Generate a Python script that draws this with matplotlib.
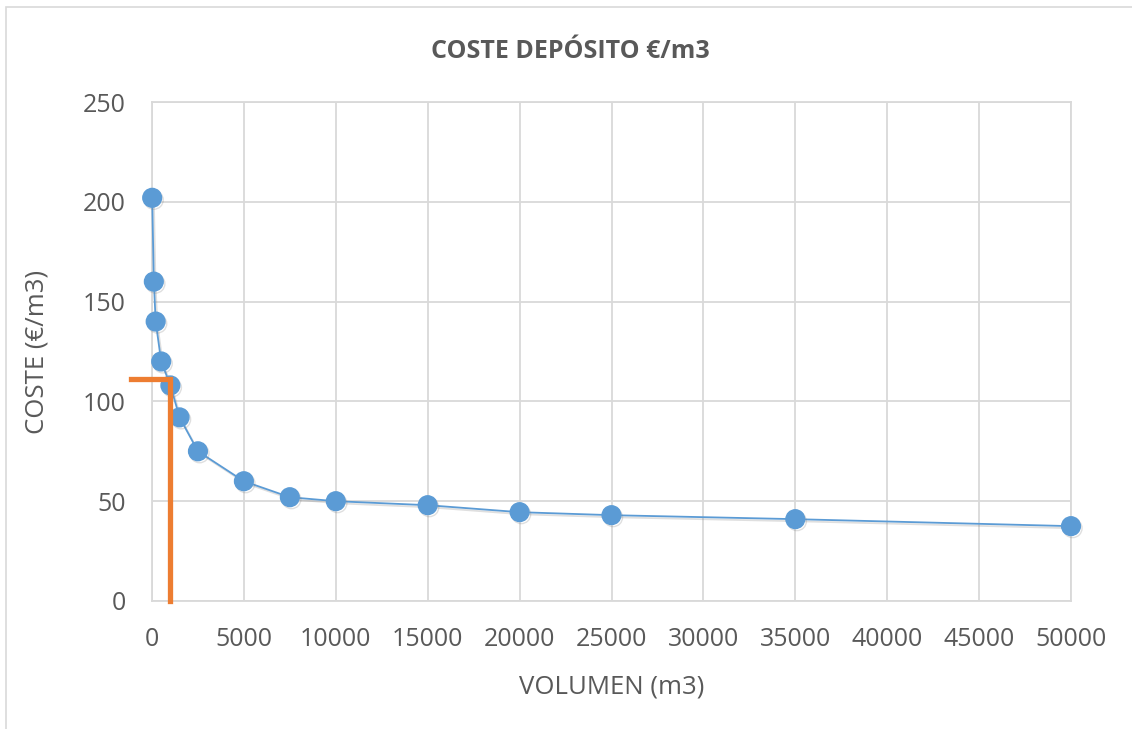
import numpy as np
import matplotlib.pyplot as plt
import matplotlib.patheffects as pe
from matplotlib.patches import Rectangle

plt.rcParams['font.family'] = ['Open Sans', 'DejaVu Sans']

# datos
volumen = [10, 100, 200, 500, 1000, 1500, 2500, 5000, 7500, 10000, 15000, 20000, 25000, 35000, 50000]
coste = [202, 160, 140, 120, 108, 92, 75, 60, 52, 50, 48, 44.5, 43, 41, 37.5]

# lineas de lectura (naranja)
lectura_x = [-1150, 1000, 1000]
lectura_y = [111, 111, 0]

azul = '#5B9BD5'
naranja = '#ED7D31'
gris = '#595959'
rejilla = '#D9D9D9'

fig = plt.figure(figsize=(11.32, 7.29), dpi=100)
ax = fig.add_axes([152/1132, 1 - 601/729, (1071-152)/1132, (601-102)/729])

# marco del area del grafico
fig.patches.append(Rectangle((6/1132, -0.1), 1.2, 1 - 7/729 + 0.1, transform=fig.transFigure,
                             fill=False, edgecolor=rejilla, linewidth=1.2))

ax.plot(volumen, coste, color=azul, linewidth=1.3, marker='o', markersize=13.5,
        markeredgecolor=azul, clip_on=False, zorder=3,
        path_effects=[pe.SimpleLineShadow(offset=(1.2, -1.5), alpha=0.25, shadow_color='gray'),
                      pe.Normal()])
ax.plot(lectura_x, lectura_y, color=naranja, linewidth=3.8, clip_on=False, zorder=4,
        solid_joinstyle='miter')

ax.set_xlim(0, 50000)
ax.set_ylim(0, 250)
ax.set_xticks(np.arange(0, 50001, 5000))
ax.set_yticks(np.arange(0, 251, 50))
ax.grid(True, color=rejilla, linewidth=1.3)
ax.set_axisbelow(True)
for s in ax.spines.values():
    s.set_color(rejilla)
    s.set_linewidth(1.3)
ax.tick_params(length=0, labelsize=18, labelcolor=gris)
ax.tick_params(axis='x', pad=19)
ax.tick_params(axis='y', pad=19)

ax.set_xlabel('VOLUMEN (m3)', fontsize=18.5, color=gris, labelpad=16)
ax.set_ylabel('COSTE (€/m3)', fontsize=18.5, color=gris, labelpad=24)
fig.text(570/1132, 1 - 51/729, 'COSTE DEPÓSITO €/m3', fontsize=18, fontweight='bold',
         color=gris, ha='center', va='center')

fig.savefig('out.png', dpi=100)
